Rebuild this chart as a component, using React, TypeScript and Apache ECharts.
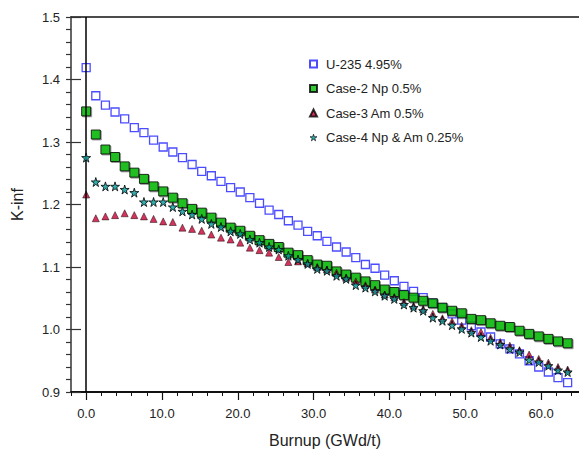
import React, { useEffect, useRef } from "react";
import * as echarts from "echarts";

const burnup = [0, 1.27, 2.54, 3.81, 5.08, 6.35, 7.62, 8.89, 10.16, 11.43, 12.7, 13.97, 15.24, 16.51, 17.78, 19.05, 20.32, 21.59, 22.86, 24.13, 25.4, 26.67, 27.94, 29.21, 30.48, 31.75, 33.02, 34.29, 35.56, 36.83, 38.1, 39.37, 40.64, 41.91, 43.18, 44.45, 45.72, 46.99, 48.26, 49.53, 50.8, 52.07, 53.34, 54.61, 55.88, 57.15, 58.42, 59.69, 60.96, 62.23, 63.5];

const u235 = [1.419, 1.374, 1.359, 1.348, 1.337, 1.323, 1.315, 1.303, 1.292, 1.284, 1.275, 1.264, 1.253, 1.246, 1.237, 1.227, 1.22, 1.211, 1.202, 1.191, 1.184, 1.174, 1.167, 1.157, 1.15, 1.141, 1.132, 1.124, 1.115, 1.104, 1.098, 1.087, 1.078, 1.069, 1.061, 1.051, 1.042, 1.035, 1.025, 1.015, 1.006, 0.996, 0.988, 0.977, 0.969, 0.961, 0.95, 0.94, 0.932, 0.923, 0.915];

const case2Np = [1.349, 1.312, 1.288, 1.276, 1.261, 1.251, 1.241, 1.229, 1.221, 1.211, 1.202, 1.193, 1.187, 1.179, 1.171, 1.163, 1.158, 1.15, 1.143, 1.137, 1.132, 1.123, 1.119, 1.111, 1.104, 1.102, 1.093, 1.088, 1.083, 1.077, 1.071, 1.064, 1.06, 1.055, 1.051, 1.046, 1.042, 1.035, 1.03, 1.026, 1.017, 1.015, 1.01, 1.006, 1.004, 0.998, 0.993, 0.989, 0.985, 0.981, 0.978];

const case3Am = [1.216, 1.178, 1.181, 1.183, 1.186, 1.183, 1.181, 1.177, 1.173, 1.172, 1.163, 1.161, 1.158, 1.152, 1.147, 1.144, 1.139, 1.131, 1.127, 1.123, 1.116, 1.108, 1.109, 1.106, 1.1, 1.096, 1.091, 1.083, 1.077, 1.071, 1.064, 1.056, 1.052, 1.044, 1.038, 1.033, 1.025, 1.018, 1.013, 1.006, 0.999, 0.996, 0.987, 0.98, 0.974, 0.967, 0.96, 0.953, 0.947, 0.94, 0.936];

const case4NpAm = [1.275, 1.236, 1.229, 1.229, 1.224, 1.219, 1.204, 1.204, 1.204, 1.196, 1.189, 1.184, 1.177, 1.169, 1.164, 1.157, 1.153, 1.144, 1.139, 1.132, 1.128, 1.118, 1.112, 1.105, 1.097, 1.094, 1.086, 1.081, 1.071, 1.067, 1.061, 1.054, 1.049, 1.04, 1.035, 1.03, 1.019, 1.014, 1.007, 1.001, 0.995, 0.988, 0.982, 0.976, 0.969, 0.964, 0.951, 0.948, 0.942, 0.935, 0.932];

const seriesNames = ["U-235 4.95%", "Case-2 Np 0.5%", "Case-3 Am 0.5%", "Case-4 Np & Am 0.25%"];
const xMajorTicks = [0, 10, 20, 30, 40, 50, 60];
const xMinorTicks = [-2, 0, 2, 4, 6, 8, 10, 12, 14, 16, 18, 20, 22, 24, 26, 28, 30, 32, 34, 36, 38, 40, 42, 44, 46, 48, 50, 52, 54, 56, 58, 60, 62, 64];

const STAR = "path://M50,0 L61,35 L98,35 L68,57 L79,91 L50,70 L21,91 L32,57 L2,35 L39,35 Z";
const FONT = "Liberation Sans";

const pairs = (ys: number[]) => burnup.map((x, i) => [x, ys[i]]);

export default function App() {
  const ref = useRef<HTMLDivElement>(null);
  useEffect(() => {
    if (!ref.current) return;
    const chart = echarts.init(ref.current, undefined, { renderer: "svg" });
    const axisColor = "#111";
    chart.setOption({
      animation: false,
      backgroundColor: "#fff",
      grid: { left: 71, right: 0, top: 17, bottom: 58, containLabel: false },
      legend: {
        orient: "vertical",
        left: 304,
        top: 52,
        itemWidth: 7,
        itemHeight: 7,
        itemGap: 10.5,
        data: [
          { name: seriesNames[0] },
          { name: seriesNames[1] },
          { name: seriesNames[2] },
          { name: seriesNames[3], itemStyle: { color: "#009a9a", borderColor: "#000", borderWidth: 0.8 } },
        ],
        textStyle: { fontFamily: FONT, fontSize: 13, color: "#222", lineHeight: 14, padding: [0, 0, 0, 4] },
      },
      xAxis: [
        {
          type: "value",
          min: -2,
          max: 65,
          position: "bottom",
          name: "Burnup (GWd/t)",
          nameLocation: "middle",
          nameGap: 40,
          nameTextStyle: { fontFamily: FONT, fontSize: 16, color: "#222" },
          axisLine: { show: true, onZero: false, lineStyle: { color: axisColor, width: 2 } },
          axisTick: { show: true, customValues: xMajorTicks, length: 8, lineStyle: { color: axisColor, width: 1.2 } },
          axisLabel: {
            customValues: xMajorTicks,
            formatter: (v: number) => v.toFixed(1),
            fontFamily: FONT,
            fontSize: 13,
            color: "#222",
            margin: 15,
          },
          splitLine: { show: false },
        },
        {
          type: "value",
          min: -2,
          max: 65,
          position: "bottom",
          axisLine: { show: false, onZero: false },
          axisTick: { show: true, customValues: xMinorTicks, length: 4, lineStyle: { color: axisColor, width: 1 } },
          axisLabel: { show: false },
          splitLine: { show: false },
        },
        {
          type: "value",
          min: -2,
          max: 65,
          position: "top",
          axisLine: { show: true, onZero: false, lineStyle: { color: axisColor, width: 1.5 } },
          axisTick: { show: false },
          axisLabel: { show: false },
          splitLine: { show: false },
        },
      ],
      yAxis: [
        {
          type: "value",
          min: 0.9,
          max: 1.5,
          interval: 0.1,
          position: "left",
          name: "K-inf",
          nameLocation: "middle",
          nameGap: 46,
          nameTextStyle: { fontFamily: FONT, fontSize: 16, color: "#222" },
          axisLine: { show: true, onZero: false, lineStyle: { color: "#333", width: 1.5 } },
          axisTick: { show: true, length: 5, lineStyle: { color: "#333", width: 1.2 } },
          minorTick: { show: true, splitNumber: 5, length: 5, lineStyle: { color: "#333", width: 1.2 } },
          axisLabel: {
            formatter: (v: number) => v.toFixed(1),
            fontFamily: FONT,
            fontSize: 13,
            color: "#222",
            margin: 11,
          },
          splitLine: { show: false },
        },
        {
          type: "value",
          min: 0.9,
          max: 1.5,
          interval: 0.1,
          position: "left",
          axisLine: { show: false, onZero: false },
          axisTick: { show: true, inside: true, length: 10, lineStyle: { color: "#333", width: 1.2 } },
          axisLabel: { show: false },
          splitLine: { show: false },
        },
      ],
      series: [
        {
          name: seriesNames[0],
          type: "scatter",
          data: pairs(u235),
          symbol: "rect",
          symbolSize: 8,
          z: 2,
          itemStyle: { color: "#fff", borderColor: "#1f1fff", borderWidth: 1.3 },
          markLine: {
            silent: true,
            symbol: "none",
            label: { show: false },
            lineStyle: { color: "#000", width: 1.5, type: "solid" },
            data: [{ xAxis: 0 }],
          },
        },
        {
          name: seriesNames[1],
          type: "scatter",
          data: pairs(case2Np),
          symbol: "rect",
          symbolSize: 9,
          z: 3,
          itemStyle: {
            color: "#00bb00",
            borderColor: "#000",
            borderWidth: 1,
            shadowColor: "rgba(0,0,0,0.45)",
            shadowBlur: 1,
            shadowOffsetX: 1,
            shadowOffsetY: 1,
          },
        },
        {
          name: seriesNames[2],
          type: "scatter",
          data: pairs(case3Am),
          symbol: "triangle",
          symbolSize: 7,
          z: 4,
          itemStyle: { color: "#cc0033", borderColor: "#000", borderWidth: 0.6 },
        },
        {
          name: seriesNames[3],
          type: "scatter",
          data: pairs(case4NpAm),
          symbol: STAR,
          symbolSize: 9,
          z: 5,
          itemStyle: { color: "#009a9a", borderColor: "#000", borderWidth: 1 },
        },
      ],
    });
    return () => chart.dispose();
  }, []);
  return <div ref={ref} style={{ width: 579, height: 453, position: "absolute", left: 0, top: 0 }} />;
}
